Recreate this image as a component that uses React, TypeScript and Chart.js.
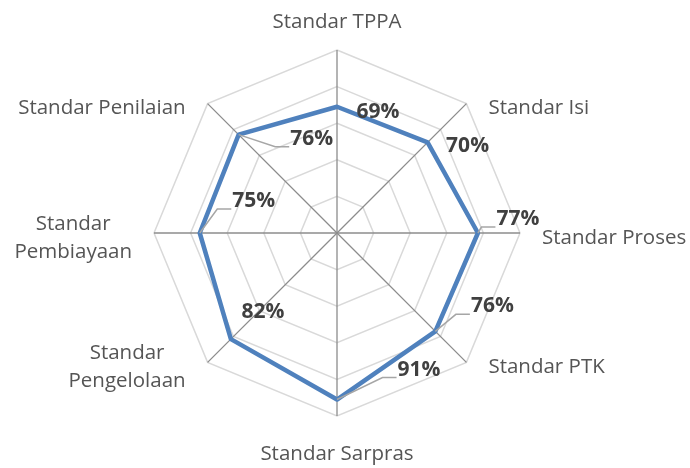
import React, { useEffect, useRef } from "react";
import { Chart, registerables } from "chart.js";

Chart.register(...registerables);

// ---- data ----
const categories: string[][] = [
  ["Standar TPPA"],
  ["Standar Isi"],
  ["Standar Proses"],
  ["Standar PTK"],
  ["Standar Sarpras"],
  ["Standar", "Pengelolaan"],
  ["Standar", "Pembiayaan"],
  ["Standar Penilaian"],
];
const values = [69, 70, 77, 76, 91, 82, 75, 76];
const valueLabels = ["69%", "70%", "77%", "76%", "91%", "82%", "75%", "76%"];
const scaleMin = 0;
const scaleMax = 100;
const scaleStep = 20;

// ---- styling (label placement relative to each point) ----
const labelOffsets: [number, number][] = [
  [41, 5],
  [40, 4],
  [40, -14],
  [57, -25],
  [82, -30],
  [32, -27],
  [54, -32],
  [73, 4],
];
const showLeader = [false, false, true, true, true, false, true, true];

const CAT_FONT = "20.5px 'Open Sans'";
const VAL_FONT = "bold 21px 'Open Sans'";

const pointLabelPlugin = {
  id: "customPointLabels",
  afterDraw(chart: any) {
    const scale = chart.scales.r;
    const ctx = chart.ctx;
    ctx.save();
    ctx.font = CAT_FONT;
    ctx.fillStyle = "#555555";
    ctx.textBaseline = "middle";
    ctx.textAlign = "center";
    const lineH = 28;
    categories.forEach((lines, i) => {
      const p = scale.getPointPosition(i, scale.drawingArea);
      const cos = Math.cos(p.angle);
      const sin = Math.sin(p.angle);
      const maxW = Math.max(...lines.map((l) => ctx.measureText(l).width));
      let cx: number;
      if (cos > 0.1) cx = p.x + 22 + maxW / 2;
      else if (cos < -0.1) cx = p.x - 22 - maxW / 2;
      else cx = p.x;
      let cy: number;
      if (Math.abs(cos) <= 0.1 && sin < 0) cy = p.y - 28;
      else if (Math.abs(cos) <= 0.1 && sin > 0) cy = p.y + 38;
      else cy = p.y + 5;
      const top = cy - ((lines.length - 1) * lineH) / 2;
      lines.forEach((l, k) => ctx.fillText(l, cx, top + k * lineH));
    });
    ctx.restore();
  },
};

const dataLabelPlugin = {
  id: "dataLabels",
  afterDatasetsDraw(chart: any) {
    const meta = chart.getDatasetMeta(0);
    const ctx = chart.ctx;
    ctx.save();
    ctx.font = VAL_FONT;
    meta.data.forEach((el: any, i: number) => {
      const [ox, oy] = labelOffsets[i];
      const cx = el.x + ox;
      const cy = el.y + oy;
      const w = ctx.measureText(valueLabels[i]).width;
      const left = cx - w / 2;
      const bottom = cy + 8;
      if (showLeader[i]) {
        ctx.strokeStyle = "#a6a6a6";
        ctx.lineWidth = 1.5;
        ctx.beginPath();
        ctx.moveTo(el.x, el.y);
        ctx.lineTo(left - 15, bottom);
        ctx.lineTo(left - 1, bottom);
        ctx.stroke();
      }
      ctx.fillStyle = "#404040";
      ctx.textAlign = "center";
      ctx.textBaseline = "middle";
      ctx.fillText(valueLabels[i], cx, cy);
    });
    ctx.restore();
  },
};

export default function App() {
  const ref = useRef<HTMLCanvasElement | null>(null);
  useEffect(() => {
    if (!ref.current) return;
    const chart = new Chart(ref.current, {
      type: "radar",
      data: {
        labels: categories,
        datasets: [
          {
            data: values,
            borderColor: "#4f81bd",
            borderWidth: 4.5,
            fill: false,
            pointRadius: 0,
            pointHoverRadius: 0,
            tension: 0,
            borderJoinStyle: "round",
          },
        ],
      },
      options: {
        responsive: false,
        animation: false,
        events: [],
        plugins: { legend: { display: false }, tooltip: { enabled: false } },
        scales: {
          r: {
            min: scaleMin,
            max: scaleMax,
            ticks: { stepSize: scaleStep, display: false },
            grid: { color: "#d9d9d9", lineWidth: 1.5, circular: false },
            angleLines: { color: "#8c8c8c", lineWidth: 1.3 },
            pointLabels: { display: false },
            afterFit: (s: any) => {
              s.xCenter = 337;
              s.yCenter = 233;
              s.drawingArea = 183;
            },
          },
        },
      },
      plugins: [pointLabelPlugin, dataLabelPlugin],
    } as any);
    return () => chart.destroy();
  }, []);
  return (
    <div style={{ position: "absolute", left: 0, top: 0, width: 690, height: 468, background: "#fff" }}>
      <canvas ref={ref} width={690} height={468} />
    </div>
  );
}
